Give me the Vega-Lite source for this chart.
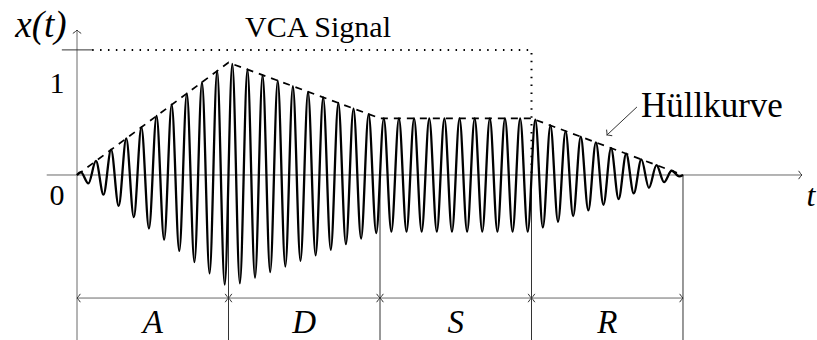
{
  "$schema": "https://vega.github.io/schema/vega-lite/v6.json",
  "width": 817,
  "height": 340,
  "autosize": {"type": "none"},
  "padding": 0,
  "background": "white",
  "config": {"view": {"stroke": null}},
  "datasets": {
    "wave": [
      {"t": 0, "v": 0},
      {"t": 0.025, "v": 0.031}, {"t": 0.075, "v": -0.094}, {"t": 0.125, "v": 0.156}, {"t": 0.175, "v": -0.219},
      {"t": 0.225, "v": 0.281}, {"t": 0.275, "v": -0.344}, {"t": 0.325, "v": 0.406}, {"t": 0.375, "v": -0.469},
      {"t": 0.425, "v": 0.531}, {"t": 0.475, "v": -0.594}, {"t": 0.525, "v": 0.656}, {"t": 0.575, "v": -0.719},
      {"t": 0.625, "v": 0.781}, {"t": 0.675, "v": -0.844}, {"t": 0.725, "v": 0.906}, {"t": 0.775, "v": -0.969},
      {"t": 0.825, "v": 1.031}, {"t": 0.875, "v": -1.094}, {"t": 0.925, "v": 1.156}, {"t": 0.975, "v": -1.219},
      {"t": 1.025, "v": 1.234}, {"t": 1.075, "v": -1.203}, {"t": 1.125, "v": 1.172}, {"t": 1.175, "v": -1.141},
      {"t": 1.225, "v": 1.110}, {"t": 1.275, "v": -1.079}, {"t": 1.325, "v": 1.048}, {"t": 1.375, "v": -1.017},
      {"t": 1.425, "v": 0.986}, {"t": 1.475, "v": -0.955}, {"t": 1.525, "v": 0.924}, {"t": 1.575, "v": -0.893},
      {"t": 1.625, "v": 0.862}, {"t": 1.675, "v": -0.831}, {"t": 1.725, "v": 0.800}, {"t": 1.775, "v": -0.769},
      {"t": 1.825, "v": 0.738}, {"t": 1.875, "v": -0.707}, {"t": 1.925, "v": 0.676}, {"t": 1.975, "v": -0.645},
      {"t": 2.025, "v": 0.63}, {"t": 2.075, "v": -0.63}, {"t": 2.125, "v": 0.63}, {"t": 2.175, "v": -0.63},
      {"t": 2.225, "v": 0.63}, {"t": 2.275, "v": -0.63}, {"t": 2.325, "v": 0.63}, {"t": 2.375, "v": -0.63},
      {"t": 2.425, "v": 0.63}, {"t": 2.475, "v": -0.63}, {"t": 2.525, "v": 0.63}, {"t": 2.575, "v": -0.63},
      {"t": 2.625, "v": 0.63}, {"t": 2.675, "v": -0.63}, {"t": 2.725, "v": 0.63}, {"t": 2.775, "v": -0.63},
      {"t": 2.825, "v": 0.63}, {"t": 2.875, "v": -0.63}, {"t": 2.925, "v": 0.63}, {"t": 2.975, "v": -0.63},
      {"t": 3.025, "v": 0.614}, {"t": 3.075, "v": -0.583}, {"t": 3.125, "v": 0.551}, {"t": 3.175, "v": -0.520},
      {"t": 3.225, "v": 0.488}, {"t": 3.275, "v": -0.457}, {"t": 3.325, "v": 0.425}, {"t": 3.375, "v": -0.394},
      {"t": 3.425, "v": 0.362}, {"t": 3.475, "v": -0.331}, {"t": 3.525, "v": 0.299}, {"t": 3.575, "v": -0.268},
      {"t": 3.625, "v": 0.236}, {"t": 3.675, "v": -0.205}, {"t": 3.725, "v": 0.173}, {"t": 3.775, "v": -0.142},
      {"t": 3.825, "v": 0.110}, {"t": 3.875, "v": -0.079}, {"t": 3.925, "v": 0.047}, {"t": 3.975, "v": -0.016},
      {"t": 4, "v": 0}
    ],
    "envelope": [
      {"t": 0, "v": 0}, {"t": 1, "v": 1.25}, {"t": 2, "v": 0.63}, {"t": 3, "v": 0.63}, {"t": 4, "v": 0}
    ],
    "vca": [
      {"t": 0.1, "v": 1.39}, {"t": 3, "v": 1.39}, {"t": 3, "v": 0}
    ],
    "segs": [
      {"kind": "axis", "t": -0.2, "v": 0, "t2": 4.785, "v2": 0},
      {"kind": "axis", "t": 0, "v": -1.84, "t2": 0, "v2": 1.61},
      {"kind": "axis", "t": 0, "v": -1.367, "t2": 4, "v2": -1.367},
      {"kind": "stage", "t": 1, "v": 0, "t2": 1, "v2": -1.84},
      {"kind": "stage", "t": 2, "v": 0, "t2": 2, "v2": -1.84},
      {"kind": "stage", "t": 3, "v": 0, "t2": 3, "v2": -1.84},
      {"kind": "stage", "t": 4, "v": 0, "t2": 4, "v2": -1.84},
      {"kind": "tick", "t": -0.1, "v": 1.39, "t2": 0.1, "v2": 1.39},
      {"kind": "pointer", "t": 3.696, "v": 0.756, "t2": 3.498, "v2": 0.444}
    ],
    "heads": [
      {"t": 4.785, "v": 0, "ang": 0},
      {"t": 0, "v": 1.61, "ang": 270},
      {"t": 0, "v": -1.367, "ang": 180}, {"t": 1, "v": -1.367, "ang": 0},
      {"t": 1, "v": -1.367, "ang": 180}, {"t": 2, "v": -1.367, "ang": 0},
      {"t": 2, "v": -1.367, "ang": 180}, {"t": 3, "v": -1.367, "ang": 0},
      {"t": 3, "v": -1.367, "ang": 180}, {"t": 4, "v": -1.367, "ang": 0},
      {"t": 3.498, "v": 0.444, "ang": 137}
    ],
    "roman": [
      {"t": 1.591, "v": 1.533, "text": "VCA Signal", "size": 30},
      {"t": 4.191, "v": 0.644, "text": "Hüllkurve", "size": 35},
      {"t": -0.132, "v": 0.91, "text": "1", "size": 30},
      {"t": -0.132, "v": -0.335, "text": "0", "size": 30}
    ],
    "italic": [
      {"t": -0.238, "v": 1.533, "text": "x(t)", "size": 37},
      {"t": 0.5, "v": -1.756, "text": "A", "size": 33},
      {"t": 1.5, "v": -1.756, "text": "D", "size": 33},
      {"t": 2.5, "v": -1.756, "text": "S", "size": 33},
      {"t": 3.5, "v": -1.756, "text": "R", "size": 33},
      {"t": 4.845, "v": -0.344, "text": "t", "size": 32}
    ]
  },
  "encoding": {
    "x": {"field": "t", "type": "quantitative", "scale": {"domain": [-0.5083, 4.8845], "nice": false, "zero": false}, "axis": null},
    "y": {"field": "v", "type": "quantitative", "scale": {"domain": [-1.8333, 1.9444], "nice": false, "zero": false}, "axis": null}
  },
  "layer": [
    {
      "data": {"name": "segs"},
      "transform": [{"filter": "datum.kind === 'axis'"}],
      "mark": {"type": "rule", "color": "#6a6a6a", "strokeWidth": 1},
      "encoding": {"x2": {"field": "t2"}, "y2": {"field": "v2"}}
    },
    {
      "data": {"name": "segs"},
      "transform": [{"filter": "datum.kind !== 'axis'"}],
      "mark": {"type": "rule", "color": "#333333", "strokeWidth": 1},
      "encoding": {"x2": {"field": "t2"}, "y2": {"field": "v2"}}
    },
    {
      "data": {"name": "vca"},
      "mark": {"type": "line", "color": "black", "strokeWidth": 2, "strokeDash": [1.5, 6.4]},
      "encoding": {"order": {"value": null}}
    },
    {
      "data": {"name": "wave"},
      "mark": {"type": "line", "color": "black", "strokeWidth": 2.3, "interpolate": "monotone"},
      "encoding": {}
    },
    {
      "data": {"name": "envelope"},
      "mark": {"type": "line", "color": "black", "strokeWidth": 1.7, "strokeDash": [7, 6]},
      "encoding": {}
    },
    {
      "data": {"name": "heads"},
      "mark": {"type": "point", "shape": "M-0.8,-1Q-0.3,-0.25,0,0Q-0.3,0.25,-0.8,1", "filled": false, "color": "#333333", "strokeWidth": 1, "size": 70, "opacity": 1},
      "encoding": {"angle": {"field": "ang", "type": "quantitative", "scale": null}}
    },
    {
      "data": {"name": "roman"},
      "mark": {"type": "text", "font": "Liberation Serif", "baseline": "alphabetic", "align": "center", "color": "black"},
      "encoding": {"text": {"field": "text"}, "size": {"field": "size", "type": "quantitative", "scale": null}}
    },
    {
      "data": {"name": "italic"},
      "mark": {"type": "text", "font": "Liberation Serif", "fontStyle": "italic", "baseline": "alphabetic", "align": "center", "color": "black"},
      "encoding": {"text": {"field": "text"}, "size": {"field": "size", "type": "quantitative", "scale": null}}
    }
  ]
}
